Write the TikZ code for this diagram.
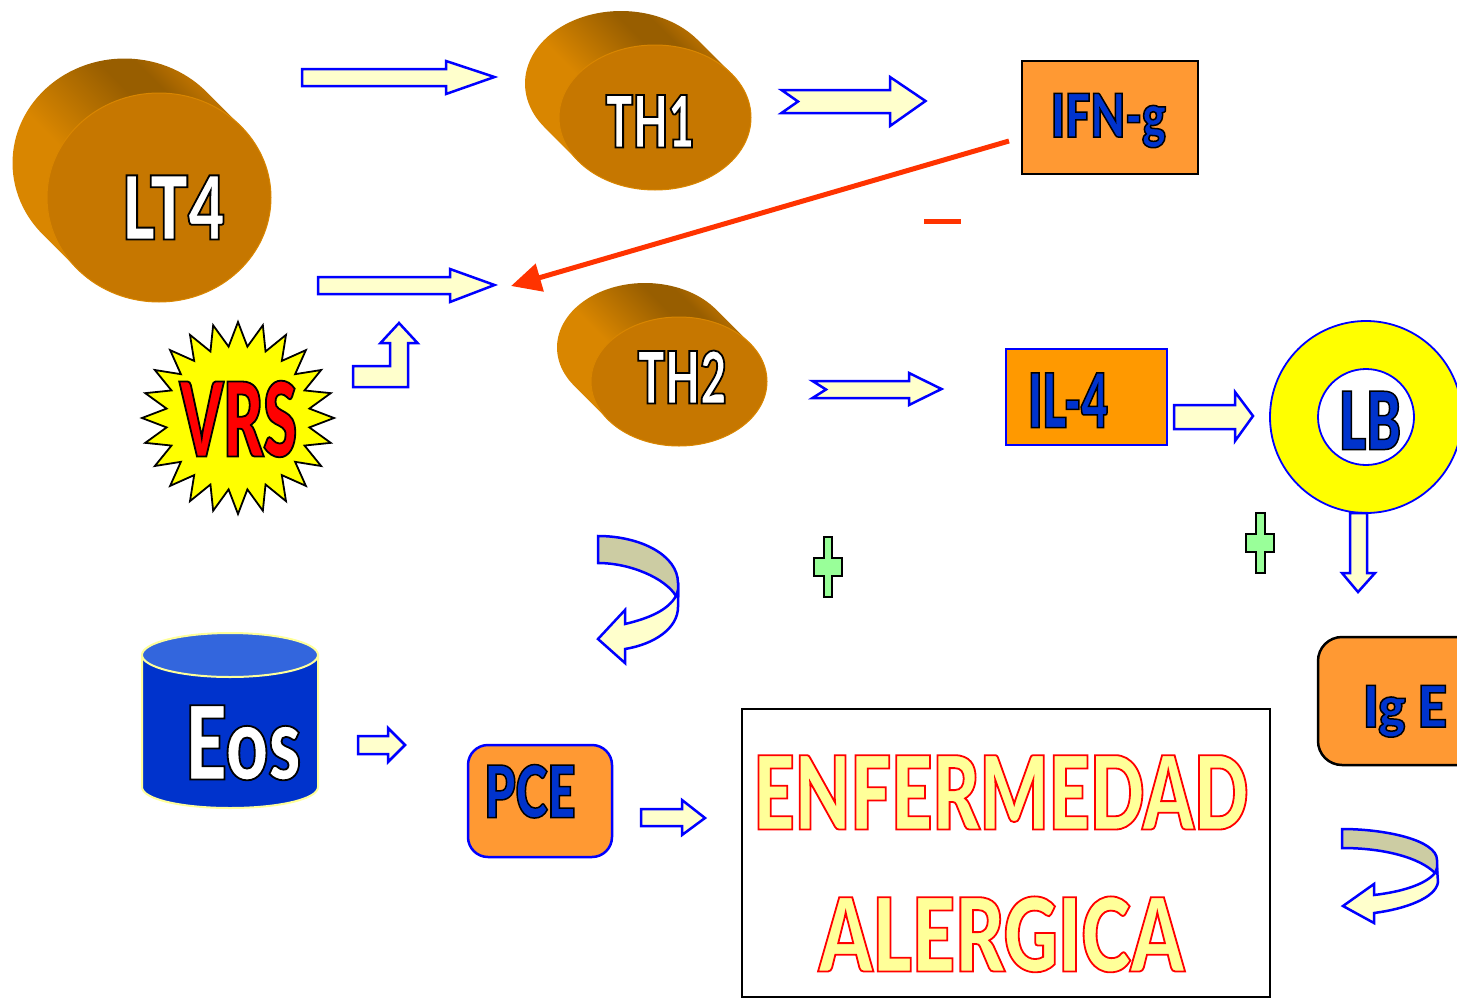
\documentclass[tikz,border=0pt]{standalone}
\usepackage{fontspec}
\usetikzlibrary{arrows.meta,calc}
\setmainfont{Liberation Sans}
\definecolor{dorange}{HTML}{C67700}
\definecolor{rimor}{HTML}{D98600}
\definecolor{lightor}{HTML}{FF9933}
\definecolor{pureor}{HTML}{FF9900}
\definecolor{cream}{HTML}{FFFFCC}
\definecolor{pale}{HTML}{FFFF99}
\definecolor{khaki}{HTML}{CCCCA3}
\definecolor{ablue}{HTML}{0000FF}
\definecolor{tblue}{HTML}{0033CC}
\definecolor{lblue}{HTML}{3366DD}
\definecolor{redor}{HTML}{FF3300}
\definecolor{mint}{HTML}{99FF99}
\definecolor{pureyellow}{HTML}{FFFF00}
\definecolor{purered}{HTML}{FF0000}
\pgfdeclarehorizontalshading{discside}{100bp}{
 color(0bp)=(rimor); color(30bp)=(rimor); color(42bp)=(rimor);
 color(62bp)=(rimor!60!black!75!rimor); color(68bp)=(rimor!70!black); color(76bp)=(dorange); color(100bp)=(dorange)}
% outlined word-art text: #1 font, #2 target width, #3 size, #4 fill, #5 stroke RGB, #6 stroke width, #7 text
\newsavebox{\wartbox}
\newcommand{\wart}[7]{{%
  \sbox{\wartbox}{\fontspec{#1}\fontsize{#3}{#3}\selectfont #7}%
  \pgfmathsetmacro{\wartratio}{#2/(\wd\wartbox/1pt)}%
  \fontspec{#1}[FakeStretch=\wartratio]\fontsize{#3}{#3}\selectfont\color{#4}\special{pdf:code 2 Tr #6 w #5 RG}#7\special{pdf:code 0 Tr}}}
\tikzset{
  x=1pt,y=-1pt,
  blockarrow/.style={draw=ablue,fill=cream,line width=2.5pt,line join=miter},
  wordart/.style={inner sep=0pt,outer sep=0pt,anchor=base},
  bluebox/.style={draw=ablue,line width=2.5pt},
  blackbox/.style={draw=black,line width=2.5pt},
  plusmark/.style={draw=black,fill=mint,line width=1.6pt},
}
\newcommand{\disc}[5]{% cx cy rx ry offset
  \pgfmathsetmacro{\tz}{atan(#4/#3)}
  \shade[shading=discside,shading angle=45]
    plot[domain=-180-\tz:-\tz,samples=60] ({#1+#5+#3*cos(\x)},{#2+#5+#4*sin(\x)})
    -- ({#1+#3*cos(\tz)},{#2-#4*sin(\tz)})
    -- ({#1-#3*cos(\tz)},{#2+#4*sin(\tz)}) -- cycle;
  \draw[draw=rimor,fill=dorange,line width=1pt] (#1,#2) ellipse [x radius=#3,y radius=#4];
}
\begin{document}
\begin{tikzpicture}
\useasboundingbox (0,0) rectangle (1457,999);
\clip (0,0) rectangle (1457,999);

% discs
\disc{159}{197.5}{112}{104.5}{-34.5}
\disc{655}{117.5}{96}{72.5}{-34}
\disc{679}{381.5}{88}{64.5}{-34}
\node[wordart] (lt4) at (173.5,239.5) {\wart{Lato Black}{103}{88}{white}{0 0 0}{1.8}{LT4}};
\node[wordart] (th1) at (650,147.5) {\wart{Lato Black}{89}{72}{white}{0 0 0}{1.8}{TH1}};
\node[wordart] (th2) at (682,403.5) {\wart{Lato Black}{89}{72}{white}{0 0 0}{1.8}{TH2}};

% star
\draw[fill=pureyellow,draw=black,line width=1.8pt,line join=miter]
  plot[samples at={0,...,47}] ({238+ifthenelse(mod(\x,2)<0.5,96,72)*cos(\x*7.5-90)},{418+ifthenelse(mod(\x,2)<0.5,96,72)*sin(\x*7.5-90)}) -- cycle;
\node[wordart] (vrs) at (238.5,456.5) {\wart{Lato Black}{117}{103}{purered}{0 0 0}{1.8}{VRS}};

% boxes
\node[blackbox,fill=lightor,minimum width=176pt,minimum height=113pt,inner sep=0pt] (ifn) at (1110,117.5) {};
\node[wordart] (ifntext) at (1108.5,137) {\wart{Lato Black}{115}{60}{tblue}{0 0 0}{1.5}{IFN-g}};
\node[bluebox,fill=pureor,minimum width=161pt,minimum height=96pt,inner sep=0pt] (il4) at (1086.5,397) {};
\node[wordart] (il4text) at (1068,427.5) {\wart{Lato Black}{80}{75}{tblue}{0 0 0}{1.5}{IL-4}};
\draw[draw=ablue,fill=pureyellow,line width=1.8pt] (1366,417) circle (96);
\draw[draw=ablue,fill=white,line width=1.8pt] (1366,417) circle (48);
\node[wordart] (lb) at (1370,449.5) {\wart{Lato Black}{62}{80}{tblue}{0 0 0}{1.5}{LB}};
\draw[blackbox,fill=lightor,rounded corners=24pt] (1318,637) rectangle (1490,765);
\node[wordart] (ige) at (1405,727) {\wart{Lato Black}{84}{57}{tblue}{0 0 0}{1.5}{Ig E}};
\draw[bluebox,fill=lightor,rounded corners=20pt] (468,745) rectangle (612,857);
\node[wordart] (pce) at (530,817.5) {\wart{Lato Black}{91}{72}{tblue}{0 0 0}{1.5}{PCE}};

% cylinder
\draw[draw=pale,fill=tblue,line width=2pt] (142,655) -- (142,787) .. controls (142,799) and (181,808) .. (230,808) .. controls (279,808) and (318,799) .. (318,787) -- (318,655) -- cycle;
\draw[draw=pale,fill=lblue,line width=2pt] (230,655) ellipse [x radius=88,y radius=22];
\node[wordart] (eos) at (243,779.5) {\wart{Lato Black}{116}{102}{white}{0 0 0}{1.8}{Eos}};

% disease box
\node[draw=black,line width=1.8pt,fill=white,minimum width=528pt,minimum height=288pt,inner sep=0pt] (enf) at (1006,853) {};
\node[wordart] (enf1) at (1001,829.5) {\wart{Lato Black}{495}{102}{pale}{1 0 0}{1.8}{ENFERMEDAD}};
\node[wordart] (enf2) at (1001.5,971.5) {\wart{Lato Black}{365}{102}{pale}{1 0 0}{1.8}{ALERGICA}};

% block arrows
\draw[blockarrow] (302,69) -- (446,69) -- (446,61) -- (494.5,77) -- (446,94) -- (446,86) -- (302,86) -- cycle;
\draw[blockarrow] (781.5,90) -- (890,90) -- (890,77) -- (925.5,101) -- (890,126) -- (890,113) -- (781.5,113) -- (798,101.5) -- cycle;
\draw[blockarrow] (318,277) -- (450,277) -- (450,269) -- (494.5,285) -- (450,302) -- (450,294) -- (318,294) -- cycle;
\draw[blockarrow] (353,366) -- (390,366) -- (390,343) -- (380.5,343) -- (399,323) -- (417.5,343) -- (408,343) -- (408,387) -- (353,387) -- cycle;
\draw[blockarrow] (812.5,381) -- (909,381) -- (909,373) -- (941.5,389) -- (909,405) -- (909,398) -- (812.5,398) -- (826,389.5) -- cycle;
\draw[blockarrow] (1174,405) -- (1235,405) -- (1235,392) -- (1253,416) -- (1235,441) -- (1235,429) -- (1174,429) -- cycle;
\draw[blockarrow] (1350,513) -- (1367,513) -- (1367,573) -- (1375,573) -- (1358,592) -- (1342,573) -- (1350,573) -- cycle;
\draw[blockarrow] (358,736) -- (388,736) -- (388,728) -- (405,745) -- (388,762) -- (388,754) -- (358,754) -- cycle;
\draw[blockarrow] (641,809) -- (682,809) -- (682,800) -- (705,818) -- (682,835) -- (682,826) -- (641,826) -- cycle;

% curved arrows
\draw[blockarrow,fill=khaki] (598,536) .. controls (640,536) and (678,555) .. (678,583) -- (678,596) -- (676,596) .. controls (665,578) and (630,563) .. (598,563) -- cycle;
\draw[blockarrow] (676,596) -- (678,590) -- (678,607) .. controls (678,628) and (655,644) .. (625,649) -- (625,663) -- (598,639) -- (625,610) -- (625,624) .. controls (650,618) and (668,610) .. (676,596) -- cycle;
\draw[blockarrow,fill=khaki] (1342,829) .. controls (1385,829) and (1437,840) .. (1437,860) -- (1437,873) -- (1435,873) .. controls (1420,858) and (1385,848) .. (1342,848) -- cycle;
\draw[blockarrow] (1435,873) -- (1437,868) -- (1438,882) .. controls (1436,898) and (1405,909) .. (1374,913) -- (1374,923) -- (1343,906) -- (1374,884) -- (1374,895) .. controls (1400,892) and (1425,885) .. (1435,873) -- cycle;

% plus marks
\draw[plusmark] (824,537) -- (832,537) -- (832,558) -- (842,558) -- (842,576) -- (832,576) -- (832,597) -- (824,597) -- (824,576) -- (814,576) -- (814,558) -- (824,558) -- cycle;
\draw[plusmark] (1256,513) -- (1265,513) -- (1265,534) -- (1274,534) -- (1274,552) -- (1265,552) -- (1265,573) -- (1256,573) -- (1256,552) -- (1246,552) -- (1246,534) -- (1256,534) -- cycle;

% inhibition
\coordinate (ifnout) at (1009,141);
\coordinate (th2in) at (511,286);
\draw[draw=redor,line width=5pt,-{Triangle[length=30pt,width=28pt,fill=redor]}] (ifnout) -- (th2in);
\fill[redor] (924,218.5) rectangle (961,223.5);
\end{tikzpicture}
\end{document}
